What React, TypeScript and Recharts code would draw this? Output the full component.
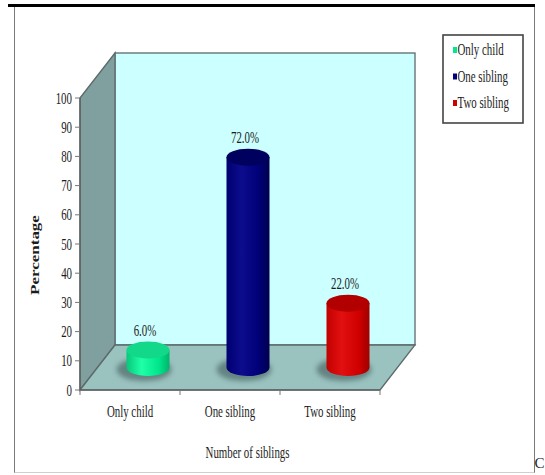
import { BarChart, Bar, XAxis, YAxis, ReferenceArea, LabelList, Legend, Label } from 'recharts';

const categories = ['Only child', 'One sibling', 'Two sibling'];
const percentages = [6.0, 72.0, 22.0];
const percentTicks = [0, 10, 20, 30, 40, 50, 60, 70, 80, 90, 100];

const chartData = categories.map((name, i) => ({ name, value: percentages[i] }));

// cylinder colours: cap, then body gradient from left edge to right edge
const palette = [
    { cap: '#12D98A', stops: ['#06C879', '#1FFFA8', '#00E68C', '#00B46C'], swatch: '#00E890' },
    { cap: '#00005E', stops: ['#000070', '#0C0C8E', '#000078', '#00004E'], swatch: '#000080' },
    { cap: '#B20000', stops: ['#C20000', '#E21010', '#D00000', '#A00000'], swatch: '#CC0000' },
];

const WIDTH = 545;
const HEIGHT = 475;
const MARGIN = { top: 98, right: 165, bottom: 55, left: 30 };
const Y_AXIS_WIDTH = 50;
const X_AXIS_HEIGHT = 30;
const PLOT_WIDTH = WIDTH - MARGIN.left - MARGIN.right - Y_AXIS_WIDTH;
const BAND = PLOT_WIDTH / categories.length;

// oblique depth of the 3D box
const DEPTH_X = 35;
const DEPTH_Y = 45;
const RY = 8.5;

const SQUEEZE = 0.68;
const FONT = '"Liberation Serif", "Times New Roman", serif';

function SerifText({ x, y, anchor = 'middle', size = 16, weight = 'normal', children }: any) {
    return (
        <text
            transform={`translate(${x},${y}) scale(${SQUEEZE},1)`}
            textAnchor={anchor}
            fontFamily={FONT}
            fontSize={size}
            fontWeight={weight}
            fill="#1c1c1c"
        >
            {children}
        </text>
    );
}

function Room({ x, y, width, height }: any) {
    const l = x;
    const r = x + width;
    const t = y;
    const b = y + height;
    const edge = '#5c6a6a';
    return (
        <g>
            <defs>
                <filter id="floorShadow" x="-50%" y="-50%" width="200%" height="200%">
                    <feGaussianBlur stdDeviation="2.5" />
                </filter>
            </defs>
            <rect
                x={l + DEPTH_X}
                y={t - DEPTH_Y}
                width={width}
                height={height}
                fill="#CCFFFF"
                stroke={edge}
                strokeWidth={1.3}
            />
            <polygon
                points={`${l},${t} ${l + DEPTH_X},${t - DEPTH_Y} ${l + DEPTH_X},${b - DEPTH_Y} ${l},${b}`}
                fill="#80A09F"
                stroke={edge}
                strokeWidth={1.3}
            />
            <polygon
                points={`${l},${b} ${l + DEPTH_X},${b - DEPTH_Y} ${r + DEPTH_X},${b - DEPTH_Y} ${r},${b}`}
                fill="#9AC2BF"
                stroke={edge}
                strokeWidth={1.3}
            />
        </g>
    );
}

function Cylinder({ x, y, width, height, index }: any) {
    const c = palette[index];
    const cx = x + width / 2 + DEPTH_X / 2;
    const rx = width / 2;
    const top = y - DEPTH_Y / 2;
    const base = y + height - DEPTH_Y / 2;
    const gid = `cyl-body-${index}`;
    return (
        <g>
            <defs>
                <linearGradient id={gid} x1="0" x2="1" y1="0" y2="0">
                    <stop offset="0" stopColor={c.stops[0]} />
                    <stop offset="0.35" stopColor={c.stops[1]} />
                    <stop offset="0.75" stopColor={c.stops[2]} />
                    <stop offset="1" stopColor={c.stops[3]} />
                </linearGradient>
            </defs>
            <ellipse
                cx={cx - 4}
                cy={base + 2}
                rx={rx + 6}
                ry={RY + 3}
                fill="#3f5c5a"
                opacity={0.6}
                filter="url(#floorShadow)"
            />
            <path
                d={`M${cx - rx},${top} L${cx - rx},${base} A${rx},${RY} 0 0 0 ${cx + rx},${base} L${cx + rx},${top} Z`}
                fill={`url(#${gid})`}
            />
            <ellipse cx={cx} cy={top} rx={rx} ry={RY} fill={c.cap} />
        </g>
    );
}

function ValueLabel({ x, y, width, value }: any) {
    const cx = x + width / 2 + DEPTH_X / 2 - 3;
    const top = y - DEPTH_Y / 2;
    return <SerifText x={cx} y={top - 14}>{`${Number(value).toFixed(1)}%`}</SerifText>;
}

function PercentTick({ x, y, payload }: any) {
    return <SerifText x={x} y={y + 5.5} anchor="end">{payload.value}</SerifText>;
}

function CategoryTick({ x, y, payload, index }: any) {
    const half = BAND / 2;
    return (
        <g>
            <line x1={x - half} x2={x - half} y1={y} y2={y + 5} stroke="#777" />
            {index === categories.length - 1 && (
                <line x1={x + half} x2={x + half} y1={y} y2={y + 5} stroke="#777" />
            )}
            <SerifText x={x} y={y + 27}>{payload.value}</SerifText>
        </g>
    );
}

function XTitle({ viewBox }: any) {
    const cx = viewBox.x + viewBox.width / 2 + DEPTH_X / 2;
    return <SerifText x={cx} y={viewBox.y + 68}>Number of siblings</SerifText>;
}

function YTitle({ viewBox }: any) {
    const cy = viewBox.y + viewBox.height / 2 + 11;
    return (
        <text
            transform={`translate(39,${cy}) rotate(-90) scale(1,${SQUEEZE})`}
            textAnchor="middle"
            fontFamily={FONT}
            fontSize={17}
            fontWeight="bold"
            fill="#1c1c1c"
        >
            Percentage
        </text>
    );
}

function LegendBox() {
    const rows = [16, 42.5, 69];
    return (
        <svg width={82} height={90}>
            <rect x={1} y={1} width={80} height={88} fill="#fff" stroke="#444" strokeWidth={1.6} />
            {categories.map((name, i) => (
                <g key={name}>
                    <rect x={11} y={rows[i] - 3} width={4} height={6} fill={palette[i].swatch} />
                    <SerifText x={15.5} y={rows[i] + 5} anchor="start">
                        {name}
                    </SerifText>
                </g>
            ))}
        </svg>
    );
}

export default function App() {
    return (
        <div
            style={{
                position: 'absolute',
                left: 0,
                top: 0,
                width: WIDTH,
                height: HEIGHT,
                background: '#fff',
                overflow: 'hidden',
            }}
        >
            <div
                style={{
                    position: 'absolute',
                    left: 14,
                    top: 6,
                    width: 519,
                    height: 466,
                    borderLeft: '1px solid #7a7a7a',
                    borderRight: '1px solid #7a7a7a',
                    borderBottom: '1px solid #cfcfcf',
                }}
            />
            <div style={{ position: 'absolute', left: 8, top: 4, width: 527, height: 2.5, background: '#000' }} />
            <span
                style={{
                    position: 'absolute',
                    left: 534.5,
                    top: 455,
                    fontFamily: FONT,
                    fontSize: 15,
                    lineHeight: '17px',
                    color: '#222',
                }}
            >
                C
            </span>
            <div style={{ position: 'absolute', left: 0, top: 0 }}>
                <BarChart width={WIDTH} height={HEIGHT} data={chartData} margin={MARGIN}>
                    <ReferenceArea y1={0} y2={100} ifOverflow="visible" shape={(p: any) => <Room {...p} />} />
                    <XAxis
                        dataKey="name"
                        height={X_AXIS_HEIGHT}
                        interval={0}
                        tickSize={0}
                        tickMargin={0}
                        tickLine={false}
                        axisLine={{ stroke: '#5a5a5a', strokeWidth: 1.2 }}
                        tick={(p: any) => <CategoryTick {...p} />}
                    >
                        <Label content={(p: any) => <XTitle {...p} />} />
                    </XAxis>
                    <YAxis
                        width={Y_AXIS_WIDTH}
                        domain={[0, 100]}
                        ticks={percentTicks}
                        interval={0}
                        tickSize={5}
                        tickMargin={3}
                        tickLine={{ stroke: '#777' }}
                        axisLine={{ stroke: '#5a5a5a', strokeWidth: 1.2 }}
                        tick={(p: any) => <PercentTick {...p} />}
                    >
                        <Label content={(p: any) => <YTitle {...p} />} />
                    </YAxis>
                    <Legend
                        layout="horizontal"
                        verticalAlign="middle"
                        align="center"
                        wrapperStyle={{ left: 442, top: 34, width: 82, height: 90 }}
                        content={() => <LegendBox />}
                    />
                    <Bar
                        dataKey="value"
                        barSize={43}
                        isAnimationActive={false}
                        shape={(p: any) => <Cylinder {...p} />}
                    >
                        <LabelList dataKey="value" content={(p: any) => <ValueLabel {...p} />} />
                    </Bar>
                </BarChart>
            </div>
        </div>
    );
}
